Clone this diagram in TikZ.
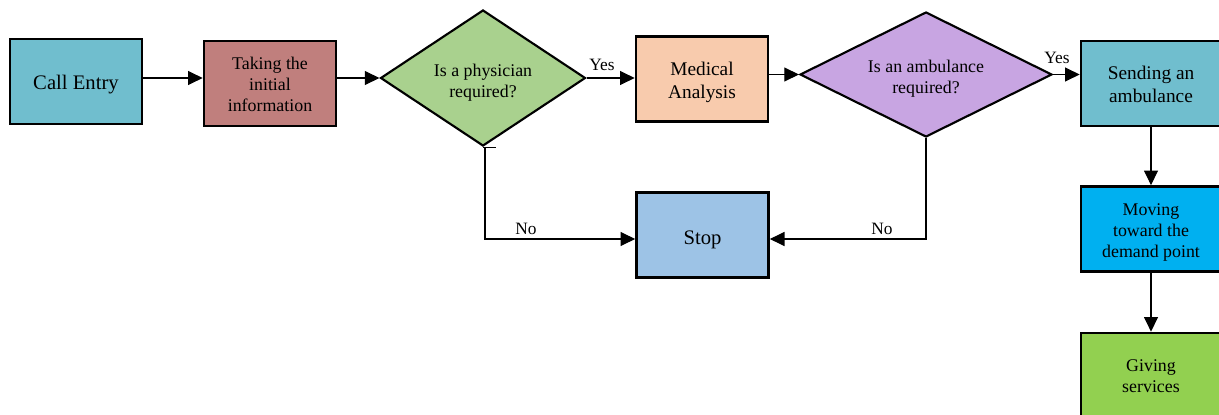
\documentclass[tikz,border=0pt]{standalone}
\usepackage{fontspec}
\setmainfont{Liberation Serif}
\usetikzlibrary{shapes.geometric,arrows.meta}
\definecolor{cteal}{HTML}{70BECE}
\definecolor{crose}{HTML}{C07F7D}
\definecolor{cgreen}{HTML}{A9D18E}
\definecolor{cpeach}{HTML}{F8CBAD}
\definecolor{cpurple}{HTML}{C8A5E2}
\definecolor{cblue}{HTML}{00B0F0}
\definecolor{clime}{HTML}{92D050}
\definecolor{csky}{HTML}{9DC3E6}
\newcommand{\lowtext}[2]{\raisebox{-#1}[\height][\depth]{\begin{tabular}{@{}c@{}}#2\end{tabular}}}
\tikzset{
  box/.style={draw=black, line width=2pt, rectangle, minimum width=99pt, minimum height=63.75pt, inner sep=0pt, text=black},
  dia/.style={draw=black, line width=1.6pt, diamond, inner sep=0pt},
  arr/.style={line width=0.8pt, -{Triangle[length=11pt,width=10.5pt]}},
  ln/.style={line width=0.8pt},
  lbl/.style={font=\fontsize{13}{15}\selectfont, inner sep=0pt},
  fbig/.style={font=\fontsize{15.5}{17}\selectfont},
  fmid/.style={font=\fontsize{14.5}{17}\selectfont},
  fsmall/.style={font=\fontsize{13.4}{15.75}\selectfont},
}
\begin{document}
\begin{tikzpicture}[x=0.75pt,y=-0.75pt]
\useasboundingbox (0,0) rectangle (1219,414);
\node[box, fbig, fill=cteal] (call) at (76,81.5) {\lowtext{2.25pt}{Call Entry}};
\node[box, fsmall, fill=crose] (take) at (270,83.5) {\lowtext{1.9pt}{Taking the\\initial\\information}};
\node[dia, fsmall, fill=cgreen, minimum width=153.75pt, minimum height=102pt, shape aspect=1.5] (d1) at (483,78) {\lowtext{3.5pt}{Is a physician\\required?}};
\node[box, fmid, fill=cpeach] (med) at (702,79) {\lowtext{2.6pt}{Medical\\Analysis}};
\node[dia, fsmall, fill=cpurple, minimum width=189pt, minimum height=93.75pt, shape aspect=2] (d2) at (926,74.5) {\lowtext{3pt}{Is an ambulance\\required?}};
\node[box, fmid, fill=cteal, minimum width=105pt] (send) at (1151,83.5) {\lowtext{2pt}{Sending an\\ambulance}};
\node[box, fsmall, fill=cblue, minimum width=105pt] (move) at (1151,229) {\lowtext{2.25pt}{Moving\\toward the\\demand point}};
\node[box, fsmall, fill=clime, minimum width=105pt] (give) at (1151,375.5) {\lowtext{1.5pt}{Giving\\services}};
\node[box, fbig, fill=csky] (stop) at (702.5,235) {\lowtext{3.75pt}{Stop}};

\draw[arr] (call.east |- d1.west) -- (take.west |- d1.west);
\draw[arr] (take.east |- d1.west) -- (d1.west);
\draw[arr] (d1.east) -- (med.west |- d1.east);
\draw[arr] (med.east |- d2.west) -- (d2.west);
\draw[arr] (d2.east) -- (send.west |- d2.east);
\draw[arr] (send.south) -- (move.north);
\draw[arr] (move.south) -- (give.north);
\draw[arr] ([xshift=1.5pt]d1.south) |- ([yshift=-3pt]stop.west);
\draw[ln] (d1.south) -- ++(10pt,0);
\draw[arr] (d2.south) |- ([yshift=-3pt]stop.east);

\node[lbl] (yes1) at (602,65) {Yes};
\node[lbl] (yes2) at (1057,58) {Yes};
\node[lbl] (no1) at (526,229) {No};
\node[lbl] (no2) at (882,229) {No};
\end{tikzpicture}
\end{document}
